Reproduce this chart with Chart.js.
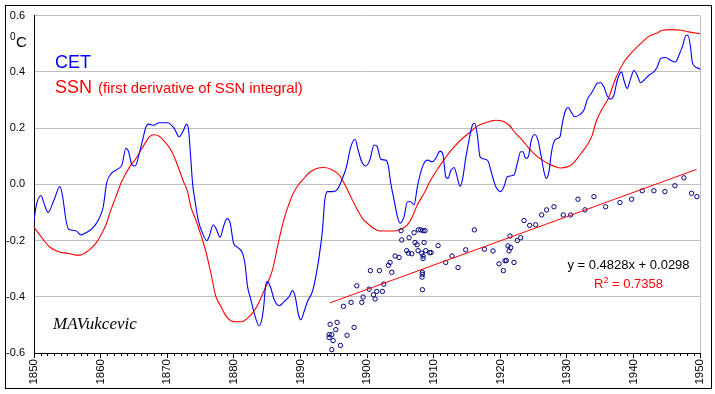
<!DOCTYPE html>
<html>
<head>
<meta charset="utf-8">
<script src="https://cdn.jsdelivr.net/npm/chart.js@4/dist/chart.umd.min.js"></script>
<style>
  html, body { margin: 0; padding: 0; background: #fff; }
  canvas { display: block; }
</style>
</head>
<body>
<canvas id="c" width="715" height="394"></canvas>
<script>
// ---- Data ----
const cetYears = [1850.0,1850.3,1851.05,1851.5,1852.1,1853.0,1853.9,1854.3,1854.8,1855.2,1856.3,1857.05,1857.8,1858.8,1859.8,1860.4,1860.9,1861.55,1862.5,1863.2,1863.8,1864.2,1864.7,1865.2,1865.8,1866.3,1866.8,1867.2,1867.95,1868.8,1870.05,1871.05,1871.8,1872.45,1872.9,1873.2,1873.55,1873.8,1874.15,1874.65,1875.3,1875.95,1876.3,1876.9,1877.3,1877.95,1878.45,1878.95,1879.45,1879.95,1880.55,1881.3,1881.65,1882.05,1882.55,1883.05,1883.8,1884.2,1884.5,1884.75,1885.05,1885.55,1886.05,1886.8,1887.55,1888.3,1888.8,1889.2,1889.7,1890.05,1890.55,1891.05,1891.8,1892.4,1892.8,1893.3,1893.65,1894.05,1894.9,1895.55,1896.2,1896.9,1897.55,1898.2,1898.65,1899.2,1899.8,1900.4,1901.05,1901.5,1902.05,1902.8,1903.15,1903.55,1904.05,1904.55,1904.95,1905.55,1906.05,1906.55,1907.05,1907.55,1908.3,1909.05,1909.8,1910.3,1910.95,1911.4,1911.8,1912.15,1912.55,1913.05,1913.45,1913.95,1914.3,1914.8,1915.3,1915.8,1916.15,1916.55,1916.95,1917.55,1918.15,1918.55,1918.95,1919.3,1920.05,1920.55,1921.05,1922.05,1922.55,1923.05,1923.4,1923.8,1924.2,1924.65,1925.15,1925.65,1926.05,1926.55,1926.9,1927.3,1927.65,1928.05,1928.55,1928.95,1929.3,1929.8,1930.2,1930.7,1931.2,1931.8,1932.55,1933.05,1933.8,1934.55,1935.05,1935.55,1936.05,1936.55,1937.05,1937.55,1938.2,1938.55,1939.05,1939.55,1940.05,1940.55,1941.05,1941.55,1942.3,1943.05,1943.55,1944.05,1944.8,1945.55,1946.3,1946.8,1947.3,1947.9,1948.15,1948.55,1948.8,1949.3,1949.8,1950.0];
const cetValues = [-0.13,-0.08,-0.04,-0.067,-0.10,-0.056,-0.008,-0.044,-0.127,-0.16,-0.165,-0.18,-0.172,-0.156,-0.121,-0.079,0.004,0.037,0.053,0.069,0.128,0.116,0.069,0.065,0.11,0.157,0.204,0.214,0.21,0.219,0.219,0.199,0.169,0.193,0.214,0.193,0.086,0.004,-0.056,-0.127,-0.174,-0.2,-0.186,-0.144,-0.156,-0.188,-0.15,-0.122,-0.138,-0.209,-0.224,-0.245,-0.28,-0.363,-0.41,-0.458,-0.503,-0.48,-0.43,-0.363,-0.346,-0.369,-0.41,-0.432,-0.417,-0.399,-0.378,-0.399,-0.464,-0.482,-0.452,-0.417,-0.381,-0.316,-0.257,-0.162,-0.056,-0.026,-0.026,-0.018,0.015,0.062,0.133,0.16,0.122,0.08,0.065,0.086,0.14,0.135,0.089,0.086,0.069,0.004,-0.056,-0.115,-0.138,-0.115,-0.062,-0.062,-0.073,-0.008,0.062,0.086,0.08,0.092,0.118,0.104,0.027,0.021,0.048,0.06,0.033,-0.008,0.015,0.092,0.157,0.21,0.217,0.175,0.098,0.09,0.083,0.051,0.018,-0.008,-0.026,-0.008,0.027,0.033,0.075,0.116,0.116,0.092,0.098,0.157,0.177,0.157,0.11,0.045,0.021,0.045,0.11,0.151,0.163,0.169,0.217,0.264,0.273,0.254,0.24,0.246,0.264,0.302,0.329,0.359,0.361,0.346,0.314,0.303,0.317,0.37,0.4,0.37,0.341,0.376,0.405,0.388,0.361,0.37,0.388,0.4,0.417,0.447,0.451,0.441,0.435,0.459,0.488,0.53,0.53,0.488,0.435,0.417,0.412,0.408];

const ssnYears = [1850.0,1851.05,1852.3,1853.8,1855.05,1856.3,1857.05,1858.3,1859.3,1860.05,1860.8,1861.55,1862.3,1863.05,1863.8,1864.55,1865.3,1866.05,1866.8,1867.3,1868.05,1868.8,1869.8,1870.55,1871.15,1871.8,1872.45,1873.05,1873.55,1874.3,1875.05,1875.8,1876.55,1877.3,1878.05,1878.8,1879.55,1880.55,1881.3,1882.05,1882.8,1883.55,1884.6,1885.8,1886.55,1887.3,1888.05,1888.8,1889.55,1890.3,1891.3,1892.3,1893.55,1894.8,1895.8,1896.55,1897.3,1898.3,1899.3,1900.3,1901.05,1902.05,1904.05,1905.05,1906.05,1906.8,1907.55,1908.55,1909.55,1910.8,1912.05,1913.05,1914.3,1915.55,1916.55,1917.55,1918.6,1919.3,1920.3,1921.3,1922.3,1923.3,1924.3,1925.3,1926.3,1927.3,1928.3,1929.05,1930.05,1930.8,1931.55,1932.3,1933.05,1933.8,1934.3,1935.05,1935.8,1936.2,1937.3,1938.55,1939.8,1941.05,1942.3,1943.55,1944.3,1945.55,1947.05,1948.3,1949.3,1950.0];
const ssnValues = [-0.153,-0.186,-0.222,-0.241,-0.245,-0.252,-0.251,-0.233,-0.209,-0.18,-0.144,-0.091,-0.044,0.004,0.039,0.069,0.092,0.122,0.151,0.169,0.176,0.171,0.146,0.122,0.092,0.051,0.009,-0.026,-0.08,-0.127,-0.18,-0.239,-0.316,-0.399,-0.434,-0.468,-0.485,-0.489,-0.488,-0.476,-0.458,-0.43,-0.375,-0.304,-0.222,-0.144,-0.085,-0.038,-0.006,0.015,0.041,0.055,0.06,0.051,0.033,0.004,-0.032,-0.08,-0.121,-0.144,-0.158,-0.166,-0.166,-0.16,-0.144,-0.115,-0.073,-0.032,0.015,0.062,0.104,0.133,0.163,0.187,0.207,0.217,0.225,0.228,0.225,0.211,0.181,0.157,0.128,0.104,0.086,0.072,0.062,0.058,0.062,0.072,0.092,0.116,0.14,0.175,0.217,0.258,0.288,0.305,0.376,0.435,0.471,0.5,0.526,0.538,0.548,0.55,0.548,0.542,0.538,0.536];

const scatterX = [1894.3,1894.7,1894.3,1894.45,1894.9,1894.7,1895.3,1895.5,1896.0,1896.45,1897.0,1897.6,1898.05,1898.45,1899.2,1899.4,1900.3,1900.5,1900.95,1901.2,1901.45,1901.85,1902.3,1902.5,1903.2,1903.45,1903.7,1904.2,1904.8,1905.1,1905.2,1905.95,1906.2,1906.3,1906.7,1907.05,1907.2,1907.5,1907.65,1907.7,1908.05,1908.2,1908.3,1908.3,1908.25,1908.3,1908.4,1908.4,1908.4,1908.55,1908.7,1908.8,1909.4,1909.6,1910.65,1911.8,1912.75,1913.65,1914.8,1916.1,1917.6,1918.9,1919.8,1920.45,1920.7,1920.9,1921.15,1921.3,1921.45,1921.55,1922.05,1922.55,1923.05,1923.55,1924.4,1925.3,1926.2,1926.95,1928.05,1929.45,1930.55,1931.65,1932.7,1934.05,1935.8,1937.95,1939.7,1941.3,1943.05,1944.7,1946.2,1947.55,1948.7,1949.5];
const scatterY = [-0.535,-0.535,-0.545,-0.498,-0.556,-0.588,-0.517,-0.491,-0.573,-0.434,-0.537,-0.42,-0.509,-0.361,-0.42,-0.401,-0.373,-0.307,-0.393,-0.408,-0.381,-0.307,-0.381,-0.355,-0.288,-0.278,-0.313,-0.255,-0.26,-0.165,-0.198,-0.236,-0.245,-0.19,-0.247,-0.172,-0.207,-0.215,-0.236,-0.162,-0.162,-0.245,-0.313,-0.32,-0.33,-0.375,-0.165,-0.255,-0.264,-0.207,-0.165,-0.236,-0.243,-0.243,-0.218,-0.278,-0.255,-0.296,-0.233,-0.162,-0.231,-0.237,-0.283,-0.307,-0.272,-0.271,-0.219,-0.237,-0.184,-0.225,-0.278,-0.2,-0.19,-0.129,-0.146,-0.144,-0.109,-0.091,-0.08,-0.109,-0.109,-0.053,-0.091,-0.044,-0.08,-0.065,-0.053,-0.023,-0.023,-0.026,-0.005,0.023,-0.032,-0.044];

const trendX = [1894.4, 1949.45];
const trendY = [-0.422, 0.053];

const yTickValues = [-0.6, -0.4, -0.2, 0.0, 0.2, 0.4, 0.6];
const xTickYears = [1850, 1860, 1870, 1880, 1890, 1900, 1910, 1920, 1930, 1940, 1950];

const legendCET = 'CET';
const legendSSN = 'SSN';
const legendSSNNote = '(first derivative of SSN integral)';
const unitSup = '0';
const unitMain = 'C';
const equationText = 'y = 0.4828x + 0.0298';
const r2Main = 'R';
const r2Sup = '2';
const r2Rest = ' = 0.7358';
const signature = 'MAVukcevic';

// ---- build datasets ----
const zip = (xs, ys) => xs.map((x, i) => ({ x: x, y: ys[i] }));
const SANS = '"Liberation Sans", Arial, sans-serif';

const overlay = {
  id: 'overlay',
  afterDraw(chart) {
    const ctx = chart.ctx;
    const xs = chart.scales.x;
    const ca = chart.chartArea;
    ctx.save();
    // minor ticks each year
    ctx.strokeStyle = '#000';
    ctx.lineWidth = 1;
    ctx.beginPath();
    for (let yr = 1851; yr < 1950; yr++) {
      if (yr % 10 === 0) continue;
      const px = Math.round(xs.getPixelForValue(yr)) + 0.5;
      ctx.moveTo(px, ca.bottom);
      ctx.lineTo(px, ca.bottom + 3);
    }
    ctx.stroke();
    // right plot border (gray)
    ctx.strokeStyle = '#c0c0c0';
    ctx.beginPath();
    ctx.moveTo(Math.round(ca.right) + 0.5, ca.top);
    ctx.lineTo(Math.round(ca.right) + 0.5, ca.bottom);
    ctx.stroke();
    // outer frame
    ctx.strokeStyle = '#000';
    ctx.strokeRect(5.5, 5.5, 706, 383);

    ctx.textBaseline = 'alphabetic';
    ctx.textAlign = 'left';
    // unit label
    ctx.fillStyle = '#000';
    ctx.font = '10px ' + SANS;
    ctx.fillText(unitSup, 10, 40);
    ctx.font = '15px ' + SANS;
    ctx.fillText(unitMain, 16, 47);

    // legend texts
    ctx.font = '18px ' + SANS;
    ctx.fillStyle = '#0000ff';
    ctx.fillText(legendCET, 55, 68);
    ctx.fillStyle = '#ff0000';
    ctx.fillText(legendSSN, 55, 92.5);
    ctx.font = '14.8px ' + SANS;
    ctx.fillText(legendSSNNote, 98, 92.5);

    // equation
    ctx.font = '13px ' + SANS;
    ctx.fillStyle = '#000';
    ctx.textAlign = 'center';
    ctx.fillText(equationText, 628.5, 269);
    // R^2
    ctx.textAlign = 'left';
    ctx.fillStyle = '#ff0000';
    ctx.font = '13px ' + SANS;
    const wR = ctx.measureText(r2Main).width;
    const wRest = ctx.measureText(r2Rest).width;
    ctx.font = '9px ' + SANS;
    const wSup = ctx.measureText(r2Sup).width;
    const total = wR + wSup + wRest;
    let sx = 628.5 - total / 2;
    ctx.font = '13px ' + SANS;
    ctx.fillText(r2Main, sx, 288);
    ctx.font = '9px ' + SANS;
    ctx.fillText(r2Sup, sx + wR, 283);
    ctx.font = '13px ' + SANS;
    ctx.fillText(r2Rest, sx + wR + wSup, 288);

    // signature
    ctx.fillStyle = '#000';
    ctx.font = 'italic 17px "Liberation Serif", "DejaVu Serif", serif';
    ctx.fillText(signature, 53, 329);
    ctx.restore();
  }
};

new Chart(document.getElementById('c'), {
  data: {
    datasets: [
      {
        type: 'line',
        label: 'CET',
        data: zip(cetYears, cetValues),
        borderColor: '#0000ff',
        borderWidth: 1.1,
        pointRadius: 0,
        cubicInterpolationMode: 'monotone',
        fill: false,
        order: 2
      },
      {
        type: 'line',
        label: 'SSN',
        data: zip(ssnYears, ssnValues),
        borderColor: '#ff0000',
        borderWidth: 1.1,
        pointRadius: 0,
        cubicInterpolationMode: 'monotone',
        fill: false,
        order: 3
      },
      {
        type: 'scatter',
        label: 'CET vs SSN',
        data: zip(scatterX, scatterY),
        borderColor: '#000080',
        backgroundColor: 'rgba(0,0,0,0)',
        borderWidth: 1,
        pointRadius: 2.2,
        pointStyle: 'circle',
        order: 1
      },
      {
        type: 'line',
        label: 'Trend',
        data: zip(trendX, trendY),
        borderColor: '#ff0000',
        borderWidth: 1,
        pointRadius: 0,
        fill: false,
        order: 0
      }
    ]
  },
  options: {
    responsive: false,
    animation: false,
    devicePixelRatio: 1,
    layout: { padding: { left: 0, right: 13, top: 15, bottom: 0 } },
    plugins: { legend: { display: false }, tooltip: { enabled: false } },
    scales: {
      x: {
        type: 'linear',
        min: 1850,
        max: 1950,
        afterBuildTicks: (s) => { s.ticks = xTickYears.map(v => ({ value: v })); },
        afterFit: (s) => { s.height = 41; },
        ticks: {
          autoSkip: false,
          maxRotation: 90,
          minRotation: 90,
          padding: 1,
          color: '#000',
          font: { family: SANS, size: 11.5 },
          callback: (v) => String(v)
        },
        grid: { drawOnChartArea: false, tickLength: 5, color: '#000', tickColor: '#000' },
        border: { color: '#000', width: 1 }
      },
      y: {
        type: 'linear',
        min: -0.6,
        max: 0.6,
        afterBuildTicks: (s) => { s.ticks = yTickValues.map(v => ({ value: v })); },
        afterFit: (s) => { s.width = 34; },
        ticks: {
          padding: 9,
          color: '#000',
          font: { family: SANS, size: 11 },
          callback: (v) => (Math.abs(v) < 1e-9 ? '0.0' : Number(v).toFixed(1))
        },
        grid: { color: '#c0c0c0', drawTicks: false, lineWidth: 1 },
        border: { color: '#000', width: 1 }
      }
    }
  },
  plugins: [overlay]
});
</script>
</body>
</html>
